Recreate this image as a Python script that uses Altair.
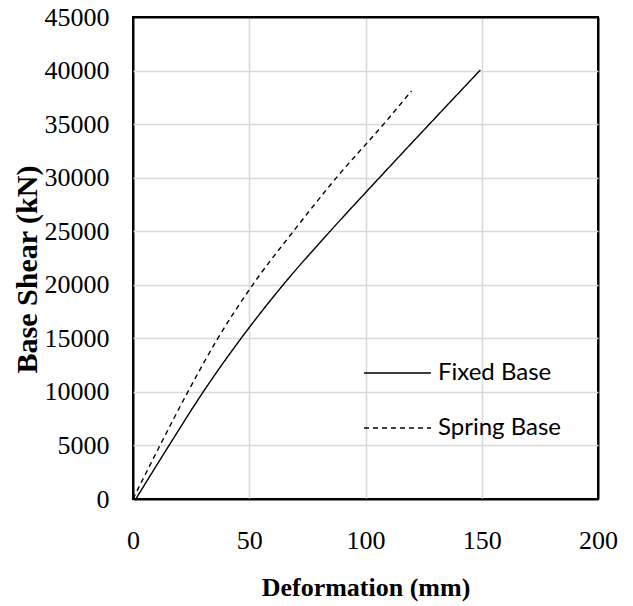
import altair as alt
import pandas as pd

# Data
series = ["Fixed Base", "Spring Base"]
fixed_mm = [1.2, 15.5, 30.2, 46.5, 64.6, 84.8, 106.0, 127.5, 149.4]
fixed_kn = [0, 5000, 10000, 15000, 20000, 25000, 30000, 35000, 40050]
spring_mm = [0.0, 11.6, 23.6, 36.5, 51.5, 69.0, 87.5, 107.8, 119.8]
spring_kn = [0, 5000, 10000, 15000, 20000, 25000, 30000, 35000, 38100]
x_ticks = [0, 50, 100, 150, 200]
y_ticks = [0, 5000, 10000, 15000, 20000, 25000, 30000, 35000, 40000, 45000]

rows = []
for i, (x, y) in enumerate(zip(fixed_mm, fixed_kn)):
    rows.append({"series": series[0], "mm": x, "kn": y, "i": i})
for i, (x, y) in enumerate(zip(spring_mm, spring_kn)):
    rows.append({"series": series[1], "mm": x, "kn": y, "i": i})
df = pd.DataFrame(rows)

x_edge = "datum.value == 0 || datum.value == 200"
y_edge = "datum.value == 0 || datum.value == 45000"

chart = (
    alt.Chart(df)
    .mark_line(color="black", strokeWidth=1.4, interpolate="monotone")
    .encode(
        x=alt.X(
            "mm:Q",
            scale=alt.Scale(domain=[0, 200], nice=False),
            axis=alt.Axis(
                values=x_ticks,
                title="Deformation (mm)",
                titleY=88,
                titleBaseline="middle",
                titleFontSize=26,
                labelPadding=28,
                labelFlush=False,
                gridColor={"condition": {"test": x_edge, "value": "black"}, "value": "#d9d9d9"},
                gridWidth={"condition": {"test": x_edge, "value": 2}, "value": 1.6},
            ),
        ),
        y=alt.Y(
            "kn:Q",
            scale=alt.Scale(domain=[0, 45000], nice=False),
            axis=alt.Axis(
                values=y_ticks,
                format="d",
                title="Base Shear (kN)",
                titleX=-106,
                titleY=252,
                titleAngle=270,
                titleAlign="center",
                titleBaseline="middle",
                titleFontSize=30,
                labelPadding=24,
                labelFlush=False,
                gridColor={"condition": {"test": y_edge, "value": "black"}, "value": "#d9d9d9"},
                gridWidth={"condition": {"test": y_edge, "value": 2}, "value": 1.6},
            ),
        ),
        strokeDash=alt.StrokeDash(
            "series:N",
            scale=alt.Scale(domain=series, range=[[1, 0], [5, 4]]),
            legend=alt.Legend(
                title=None,
                orient="none",
                legendX=230,
                legendY=344,
                padding=0,
                symbolType="stroke",
                symbolSize=4489,
                symbolStrokeWidth=1.3,
                symbolStrokeColor="black",
                clipHeight=24,
                rowPadding=31,
                labelOffset=6,
                labelFont="Lato",
                labelFontSize=24,
                labelColor="black",
            ),
        ),
        order="i:Q",
    )
    .properties(
        width=465,
        height=482,
        autosize=alt.AutoSizeParams(type="none"),
        padding={"left": 133, "top": 17, "right": 35, "bottom": 107},
    )
    .configure(background="white", font="Liberation Serif")
    .configure_axis(
        labelFont="Liberation Serif",
        labelFontSize=26,
        labelColor="black",
        titleFont="Liberation Serif",
        titleFontWeight="bold",
        titleColor="black",
        ticks=False,
        domain=False,
    )
    .configure_view(stroke="black", strokeWidth=2)
)

chart.save("out.html", embed_options={"renderer": "svg", "actions": False})
